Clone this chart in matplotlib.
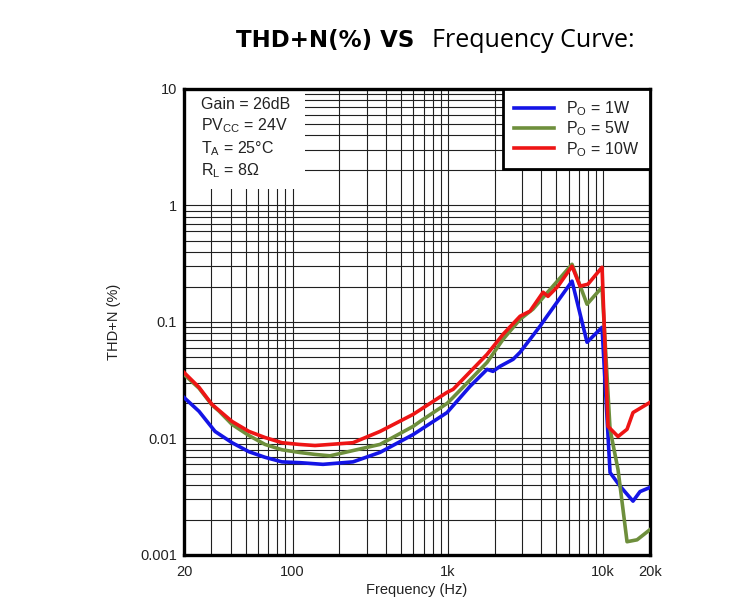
import numpy as np
import matplotlib
matplotlib.use("Agg")
import matplotlib.pyplot as plt
from matplotlib.patches import Rectangle
from matplotlib.ticker import FixedLocator, LogLocator, NullFormatter

plt.rcParams['font.family'] = ['Liberation Sans', 'DejaVu Sans']
plt.rcParams['mathtext.fontset'] = 'custom'
plt.rcParams['mathtext.rm'] = 'Liberation Sans'

# values (Hz, %)
freq_1w = [20, 25, 31.7, 40.8, 52.4, 66.4, 85.5, 112, 157, 245, 366, 597, 988,
           1388, 1788, 1952, 2166, 2628, 2916, 3920, 4348, 6300, 7870, 9830,
           11070, 12840, 15560, 17260, 20000]
thd_1w = [0.0225, 0.0171, 0.0115, 0.0092, 0.0077, 0.0069, 0.0063, 0.0062, 0.0060,
          0.0063, 0.0076, 0.0108, 0.0167, 0.028, 0.0392, 0.0377, 0.0416, 0.0478,
          0.0549, 0.092, 0.112, 0.224, 0.067, 0.090, 0.0051, 0.0039, 0.0029,
          0.0035, 0.0038]

freq_5w = [20, 25, 30.3, 33.6, 40.8, 52.4, 66.4, 85.5, 110, 139.5, 174, 366, 597,
           662, 988, 1080, 1788, 2266, 2916, 3532, 6300, 7870, 9830, 11070, 12460,
           14240, 16520, 20000]
thd_5w = [0.0355, 0.027, 0.0194, 0.0172, 0.0132, 0.0106, 0.0089, 0.0080, 0.0076,
          0.0073, 0.0071, 0.0089, 0.0127, 0.0140, 0.020, 0.0225, 0.045, 0.071,
          0.1055, 0.129, 0.313, 0.142, 0.199, 0.0120, 0.0054, 0.0013, 0.00135,
          0.00165]

freq_10w = [20, 25, 30.3, 40.8, 52.4, 66.4, 85.5, 110, 139.5, 245, 366, 597, 988,
            1080, 1788, 2266, 2916, 3380, 4100, 4410, 5120, 6300, 7096, 7980, 9830,
            10740, 12460, 14240, 15560, 20000]
thd_10w = [0.0369, 0.0275, 0.0196, 0.0140, 0.0115, 0.0102, 0.0092, 0.0089, 0.0087,
           0.0092, 0.0115, 0.0161, 0.0249, 0.0264, 0.0528, 0.0784, 0.112, 0.124,
           0.180, 0.166, 0.203, 0.301, 0.203, 0.211, 0.295, 0.0127, 0.0104, 0.0120,
           0.0167, 0.0204]

xticks = [20, 100, 1000, 10000, 20000]
xtick_labels = ['20', '100', '1k', '10k', '20k']
yticks = [0.001, 0.01, 0.1, 1, 10]
ytick_labels = ['0.001', '0.01', '0.1', '1', '10']

fig = plt.figure(figsize=(7.5, 6), dpi=100)
ax = fig.add_axes([0.2453, 0.075, 0.6213, 0.7767])

ax.plot(freq_1w, thd_1w, color='#1414e6', lw=2.6, label=r'P$_\mathregular{O}$ = 1W', zorder=3)
ax.plot(freq_5w, thd_5w, color='#6e8f3c', lw=2.6, label=r'P$_\mathregular{O}$ = 5W', zorder=3)
ax.plot(freq_10w, thd_10w, color='#ee1515', lw=2.6, label=r'P$_\mathregular{O}$ = 10W', zorder=4)

ax.set_xscale('log')
ax.set_yscale('log')
ax.set_xlim(20, 20000)
ax.set_ylim(0.001, 10)

ax.xaxis.set_major_locator(FixedLocator(xticks))
ax.set_xticklabels(xtick_labels)
ax.xaxis.set_minor_locator(LogLocator(base=10, subs=np.arange(2, 10)))
ax.xaxis.set_minor_formatter(NullFormatter())
ax.yaxis.set_major_locator(FixedLocator(yticks))
ax.set_yticklabels(ytick_labels)
ax.yaxis.set_minor_locator(LogLocator(base=10, subs=np.arange(2, 10)))
ax.yaxis.set_minor_formatter(NullFormatter())

ax.set_axisbelow(True)
ax.grid(True, which='both', color='#202020', lw=0.8)
ax.tick_params(which='both', length=0, labelsize=10.5, colors='#222222')
ax.tick_params(axis='x', pad=7)
ax.tick_params(axis='y', pad=5)
for s in ax.spines.values():
    s.set_linewidth(2.4)
    s.set_color('black')

ax.set_xlabel('Frequency (Hz)', fontsize=10.5, color='#222222', labelpad=3)
ax.set_ylabel('THD+N (%)', fontsize=10.5, color='#222222', labelpad=14)

# white box behind the test conditions
ax.add_patch(Rectangle((0, 0.785), 0.26, 0.215, transform=ax.transAxes,
                       facecolor='white', edgecolor='none', zorder=1))
cond = ('Gain = 26dB\n'
        r'PV$_\mathregular{CC}$ = 24V' '\n'
        r'T$_\mathregular{A}$ = 25°C' '\n'
        r'R$_\mathregular{L}$ = 8$\Omega$')
ax.text(0.036, 0.982, cond, transform=ax.transAxes, ha='left', va='top',
        fontsize=11.5, color='#222222', linespacing=1.28, zorder=2)

leg = ax.legend(loc='upper right', borderaxespad=0, fancybox=False, framealpha=1,
                edgecolor='black', fontsize=11.5, handlelength=2.5, handletextpad=0.8,
                borderpad=0.65, labelspacing=0.1)
leg.get_frame().set_linewidth(2)
for t in leg.get_texts():
    t.set_color('#222222')

fig.text(0.553, 0.933, 'THD+N(%) VS', ha='right', va='center', fontsize=16.5,
         fontweight='bold', family=['DejaVu Sans'])
fig.text(0.576, 0.933, 'Frequency Curve:', ha='left', va='center', fontsize=18,
         family=['Open Sans', 'DejaVu Sans'])

fig.savefig('out.png', dpi=100, facecolor='white')
